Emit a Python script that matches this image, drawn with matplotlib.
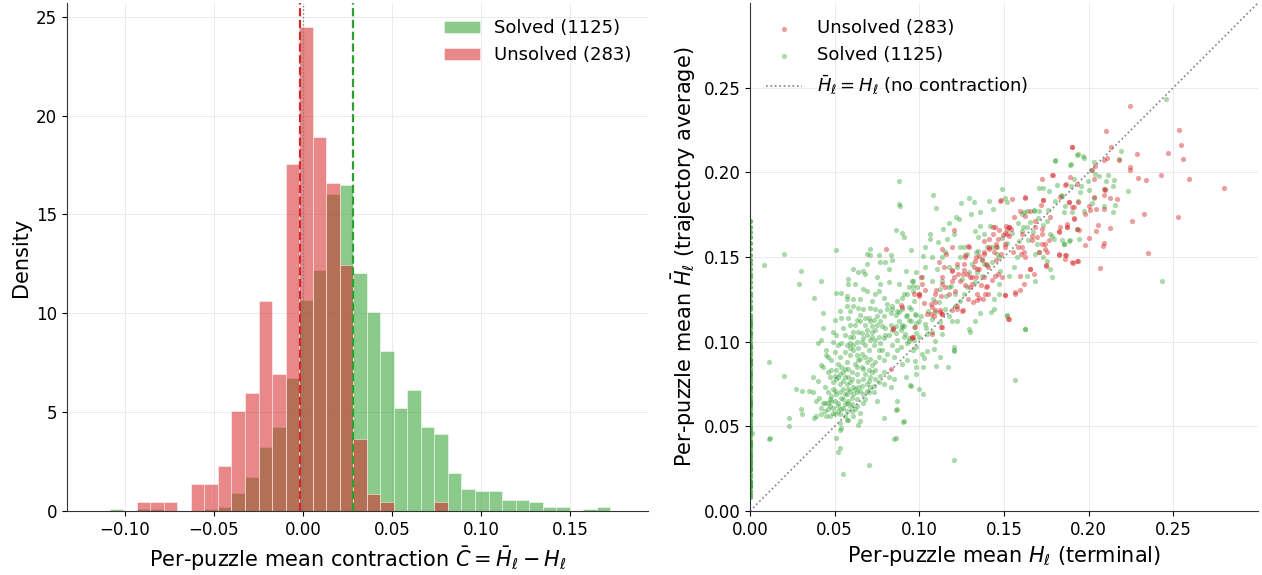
import numpy as np
import matplotlib
matplotlib.use("Agg")
import matplotlib.pyplot as plt

# ---- histogram (left) : densities read per bin ----
bin_lo = -0.1086
bin_w = 0.0076
solved_density = [0.08, 0, 0.08, 0.08, 0, 0, 0, 0.08, 0.19, 0.91, 1.71, 3.23, 4.27, 6.72,
                  10.68, 12.2, 16.05, 16.49, 12.06, 10.08, 8.09, 5.2, 6.11, 4.27, 3.92, 1.94,
                  1.11, 1.0, 1.0, 0.54, 0.54, 0.44, 0.19, 0.19, 0, 0.08, 0.19]
unsolved_density = [0, 0, 0.44, 0.44, 0.44, 0, 1.35, 1.35, 2.26, 5.05, 5.95, 10.61, 6.91, 17.55,
                    24.49, 18.94, 16.6, 12.47, 3.65, 0.88, 0.44, 0, 0, 0, 0.44, 0,
                    0, 0, 0, 0, 0, 0, 0, 0, 0, 0, 0]
solved_mean = 0.0283
unsolved_mean = -0.0017
n_solved = 1125
n_unsolved = 283

# ---- scatter (right) : (terminal H, trajectory-average H) ----
unsolved_pts = [
    # dense middle band
    (0.190, 0.2148), (0.1783, 0.1986), (0.1724, 0.1959), (0.1728, 0.1837), (0.1626, 0.1852),
    (0.1547, 0.1841), (0.1478, 0.1833), (0.1557, 0.1738), (0.1528, 0.1675), (0.1504, 0.164),
    (0.1449, 0.1675), (0.1435, 0.1636), (0.1463, 0.1606), (0.1453, 0.1577), (0.141, 0.1557),
    (0.138, 0.1596), (0.141, 0.1606), (0.138, 0.1528), (0.135, 0.1508), (0.133, 0.1478),
    (0.132, 0.1439), (0.129, 0.1567), (0.1272, 0.1498), (0.1262, 0.1459), (0.1262, 0.1423),
    (0.1281, 0.14), (0.1238, 0.136), (0.1228, 0.14), (0.1193, 0.1419), (0.1193, 0.136),
    (0.1209, 0.1301), (0.1173, 0.1281), (0.1154, 0.1321), (0.1134, 0.138), (0.1128, 0.1272),
    (0.1094, 0.1281), (0.1094, 0.1232), (0.1075, 0.1203), (0.1124, 0.1173), (0.1071, 0.1163),
    (0.1026, 0.1226), (0.0996, 0.1272), (0.1016, 0.134), (0.101, 0.138), (0.1114, 0.1469),
    (0.1193, 0.1557), (0.1295, 0.1561), (0.135, 0.1429), (0.1394, 0.1459), (0.1439, 0.1528),
    (0.1508, 0.1577), (0.1514, 0.1685), (0.1528, 0.1626), (0.1553, 0.1528), (0.1581, 0.1557),
    (0.1616, 0.1528), (0.1626, 0.1502), (0.1652, 0.1429), (0.1675, 0.14), (0.1596, 0.139),
    (0.1567, 0.1291), (0.1508, 0.1278), (0.1449, 0.139), (0.140, 0.1331), (0.139, 0.1281),
    (0.1376, 0.1252), (0.1343, 0.1246), (0.1301, 0.1321), (0.1311, 0.138), (0.135, 0.1256),
    (0.1252, 0.1183), (0.1222, 0.1213), (0.1134, 0.1163), (0.113, 0.1085), (0.0957, 0.1026),
    (0.1524, 0.1134), (0.1748, 0.1449), (0.1754, 0.1528), (0.1744, 0.1577), (0.1724, 0.1665),
    (0.1823, 0.1656), (0.1823, 0.151), (0.1862, 0.151), (0.1902, 0.1469), (0.1931, 0.1478),
    (0.1872, 0.1675), (0.1911, 0.1724), (0.1902, 0.1793), (0.1882, 0.1823), (0.1862, 0.1925),
    (0.1833, 0.1856), (0.1774, 0.1734), (0.1695, 0.1616), (0.1665, 0.1626), (0.1626, 0.1744),
    (0.1656, 0.1774), (0.1685, 0.1715), (0.1596, 0.1774), (0.1518, 0.1665),
    # second pass over the dense band
    (0.1368, 0.148), (0.1338, 0.1431), (0.1428, 0.1362), (0.1394, 0.1323), (0.1406, 0.1283),
    (0.1338, 0.1283), (0.1315, 0.1234), (0.1288, 0.1254), (0.127, 0.1333), (0.1259, 0.1402),
    (0.1203, 0.1382), (0.1191, 0.1421), (0.1225, 0.1461), (0.127, 0.151), (0.1203, 0.1657),
    (0.1135, 0.1549), (0.1157, 0.152), (0.1146, 0.1441), (0.1135, 0.1343), (0.1101, 0.1303),
    (0.1067, 0.1224), (0.109, 0.1185), (0.1124, 0.1185), (0.1135, 0.1165), (0.1045, 0.1165),
    (0.1085, 0.115), (0.1072, 0.1047), (0.1135, 0.1087), (0.1191, 0.1185), (0.1225, 0.1195),
    (0.1259, 0.1185), (0.100, 0.1283), (0.1033, 0.1303), (0.0966, 0.1283), (0.0891, 0.1215),
    (0.0842, 0.1077), (0.0959, 0.1024), (0.1528, 0.1136), (0.1507, 0.1274), (0.1568, 0.1283),
    (0.1597, 0.1303), (0.1621, 0.1343), (0.1654, 0.1431), (0.1491, 0.1382), (0.1462, 0.1402),
    (0.1367, 0.1333), (0.1383, 0.1382), (0.1333, 0.1382), (0.131, 0.1343), (0.1297, 0.1382),
    (0.1336, 0.15), (0.1383, 0.152), (0.141, 0.1549), (0.145, 0.1559), (0.1496, 0.1628),
    (0.1609, 0.1559), (0.1717, 0.1805), (0.1722, 0.1638), (0.1722, 0.1579), (0.1706, 0.153),
    (0.1683, 0.1677), (0.1541, 0.1667), (0.153, 0.1677), (0.1519, 0.1638), (0.1469, 0.1657),
    (0.1435, 0.1677), (0.1507, 0.1559), (0.148, 0.152), (0.1451, 0.148), (0.1406, 0.1441),
    (0.1609, 0.1638), (0.16, 0.152), (0.1665, 0.16), (0.1767, 0.16), (0.1744, 0.1549),
    (0.1751, 0.1451), (0.1789, 0.1986), (0.1733, 0.1839), (0.1625, 0.185), (0.148, 0.1835),
    # upper right
    (0.2246, 0.2392), (0.2102, 0.2242), (0.2535, 0.225), (0.2543, 0.2163), (0.2557, 0.2079),
    (0.2467, 0.2112), (0.2283, 0.2108), (0.2132, 0.2148), (0.1904, 0.215), (0.211, 0.2087),
    (0.2093, 0.2071), (0.2177, 0.2071), (0.2246, 0.203), (0.2242, 0.2012), (0.2291, 0.1969),
    (0.2341, 0.1957), (0.2427, 0.1982), (0.2593, 0.1961), (0.2797, 0.1907), (0.2528, 0.1738),
    (0.2327, 0.1756), (0.2258, 0.1715), (0.2348, 0.1524), (0.2069, 0.1437), (0.2126, 0.1669),
    (0.2167, 0.1841), (0.2128, 0.185), (0.2089, 0.1904), (0.2089, 0.1864), (0.203, 0.1961),
    (0.202, 0.2012), (0.2035, 0.2035), (0.2093, 0.1785), (0.201, 0.1776), (0.2045, 0.1785),
    (0.200, 0.1803), (0.198, 0.1756), (0.1911, 0.1795), (0.1882, 0.1825), (0.1935, 0.1825),
    (0.1931, 0.1933), (0.1866, 0.1929), (0.1888, 0.1972), (0.1911, 0.1728), (0.1874, 0.1697),
    (0.1872, 0.1677), (0.1833, 0.1677), (0.1823, 0.1648), (0.1931, 0.1663), (0.1941, 0.1657),
    (0.2055, 0.1691), (0.2045, 0.1654), (0.200, 0.1614), (0.1976, 0.1571), (0.2093, 0.1583),
    (0.2085, 0.1563), (0.1823, 0.1516), (0.1866, 0.1514), (0.1862, 0.1488), (0.1906, 0.1467),
    (0.1935, 0.1478), (0.2098, 0.1896), (0.203, 0.1852),
    # left of the band
    (0.0803, 0.155), (0.0833, 0.0837), (0.090, 0.1207), (0.0847, 0.1083), (0.0965, 0.1026),
    (0.0973, 0.1089), (0.100, 0.128),
]

solved_pts = [
    # lower-left cluster
    (0.086, 0.166), (0.090, 0.164), (0.091, 0.162), (0.071, 0.155), (0.069, 0.152), (0.071, 0.151),
    (0.076, 0.151), (0.077, 0.147), (0.080, 0.147), (0.084, 0.148), (0.083, 0.151), (0.095, 0.154),
    (0.051, 0.154), (0.020, 0.152), (0.008, 0.145), (0.030, 0.142), (0.029, 0.134), (0.042, 0.136),
    (0.038, 0.126), (0.043, 0.117), (0.051, 0.129), (0.054, 0.129), (0.057, 0.127), (0.058, 0.137),
    (0.058, 0.134), (0.061, 0.143), (0.064, 0.141), (0.067, 0.142), (0.068, 0.140), (0.069, 0.146),
    (0.075, 0.138), (0.077, 0.134), (0.082, 0.143), (0.082, 0.135), (0.088, 0.134), (0.092, 0.142),
    (0.098, 0.141), (0.096, 0.136), (0.096, 0.133), (0.096, 0.130), (0.093, 0.128), (0.090, 0.126),
    (0.087, 0.124), (0.084, 0.121), (0.081, 0.122), (0.079, 0.126), (0.076, 0.130), (0.074, 0.128),
    (0.072, 0.124), (0.069, 0.130), (0.067, 0.131), (0.065, 0.125), (0.061, 0.125), (0.062, 0.134),
    (0.057, 0.125), (0.057, 0.121), (0.059, 0.118), (0.061, 0.121), (0.064, 0.120), (0.067, 0.119),
    (0.071, 0.120), (0.074, 0.119), (0.077, 0.118), (0.081, 0.119), (0.084, 0.119), (0.087, 0.118),
    (0.090, 0.119), (0.093, 0.116), (0.095, 0.119), (0.098, 0.116), (0.050, 0.113), (0.053, 0.118),
    (0.054, 0.114), (0.058, 0.114), (0.059, 0.110), (0.062, 0.110), (0.065, 0.112), (0.068, 0.114),
    (0.070, 0.114), (0.071, 0.112), (0.073, 0.113), (0.075, 0.115), (0.077, 0.112), (0.078, 0.109),
    (0.080, 0.108), (0.083, 0.110), (0.086, 0.109), (0.089, 0.107), (0.091, 0.109), (0.094, 0.113),
    (0.098, 0.111), (0.043, 0.108), (0.049, 0.106), (0.051, 0.104), (0.055, 0.108), (0.056, 0.104),
    (0.059, 0.103), (0.061, 0.103), (0.061, 0.106), (0.064, 0.106), (0.066, 0.105), (0.069, 0.107),
    (0.072, 0.106), (0.074, 0.107), (0.076, 0.103), (0.080, 0.104), (0.086, 0.105), (0.087, 0.101),
    (0.091, 0.103), (0.094, 0.102), (0.097, 0.101), (0.040, 0.099), (0.042, 0.101), (0.045, 0.095),
    (0.049, 0.100), (0.052, 0.098), (0.054, 0.099), (0.057, 0.098), (0.059, 0.099), (0.061, 0.095),
    (0.063, 0.100), (0.066, 0.100), (0.068, 0.098), (0.070, 0.095), (0.071, 0.101), (0.073, 0.098),
    (0.076, 0.095), (0.078, 0.095), (0.081, 0.093), (0.084, 0.098), (0.087, 0.095), (0.089, 0.097),
    (0.093, 0.099), (0.096, 0.095), (0.098, 0.097), (0.045, 0.092), (0.046, 0.091), (0.050, 0.094),
    (0.053, 0.091), (0.056, 0.094), (0.059, 0.092), (0.063, 0.092), (0.065, 0.090), (0.068, 0.091),
    (0.071, 0.090), (0.074, 0.088), (0.076, 0.091), (0.079, 0.089), (0.085, 0.091), (0.090, 0.087),
    (0.093, 0.089), (0.098, 0.085), (0.011, 0.088), (0.042, 0.086), (0.043, 0.085), (0.048, 0.089),
    (0.052, 0.087), (0.051, 0.083), (0.054, 0.085), (0.055, 0.082), (0.057, 0.088), (0.058, 0.084),
    (0.060, 0.082), (0.063, 0.085), (0.063, 0.081), (0.066, 0.085), (0.068, 0.081), (0.070, 0.083),
    (0.072, 0.086), (0.074, 0.083), (0.077, 0.080), (0.079, 0.082), (0.082, 0.079), (0.085, 0.078),
    (0.092, 0.079), (0.098, 0.081), (0.037, 0.079), (0.040, 0.077), (0.046, 0.082), (0.047, 0.079),
    (0.049, 0.076), (0.052, 0.079), (0.053, 0.075), (0.056, 0.079), (0.057, 0.075), (0.059, 0.076),
    (0.061, 0.073), (0.064, 0.077), (0.067, 0.078), (0.069, 0.075), (0.071, 0.073), (0.073, 0.074),
    (0.076, 0.076), (0.079, 0.075), (0.083, 0.073), (0.095, 0.074), (0.020, 0.080), (0.027, 0.072),
    (0.031, 0.071), (0.035, 0.071), (0.037, 0.070), (0.044, 0.073), (0.046, 0.070), (0.048, 0.068),
    (0.050, 0.071), (0.053, 0.070), (0.055, 0.072), (0.057, 0.069), (0.059, 0.071), (0.063, 0.070),
    (0.065, 0.071), (0.067, 0.069), (0.070, 0.070), (0.073, 0.070), (0.047, 0.066), (0.048, 0.065),
    (0.050, 0.065), (0.052, 0.064), (0.055, 0.066), (0.056, 0.063), (0.058, 0.065), (0.060, 0.063),
    (0.063, 0.066), (0.067, 0.064), (0.068, 0.066), (0.075, 0.065), (0.087, 0.065), (0.087, 0.060),
    (0.039, 0.065), (0.041, 0.067), (0.043, 0.064), (0.046, 0.064), (0.049, 0.061), (0.052, 0.062),
    (0.054, 0.060), (0.057, 0.059), (0.059, 0.062), (0.063, 0.062), (0.065, 0.058), (0.030, 0.060),
    (0.031, 0.057), (0.038, 0.055), (0.039, 0.056), (0.042, 0.057), (0.044, 0.059), (0.045, 0.056),
    (0.047, 0.056), (0.050, 0.057), (0.053, 0.057), (0.056, 0.056), (0.058, 0.054), (0.061, 0.056),
    (0.065, 0.053), (0.064, 0.051), (0.023, 0.055), (0.023, 0.050), (0.054, 0.049), (0.053, 0.048),
    (0.079, 0.055), (0.091, 0.053), (0.051, 0.043), (0.053, 0.037), (0.052, 0.035), (0.012, 0.043),
    (0.086, 0.043), (0.070, 0.027), (0.055, 0.022), (0.001, 0.046), (0.0113, 0.0425),
    # second pass over the densest part of the cluster
    (0.048, 0.083), (0.050, 0.080), (0.051, 0.078), (0.053, 0.081), (0.055, 0.077), (0.056, 0.084),
    (0.058, 0.079), (0.049, 0.072), (0.051, 0.069), (0.054, 0.067), (0.047, 0.062), (0.049, 0.058),
    (0.052, 0.059), (0.055, 0.061), (0.057, 0.064), (0.060, 0.067), (0.062, 0.072), (0.060, 0.078),
    (0.062, 0.087), (0.064, 0.089), (0.066, 0.093), (0.069, 0.088), (0.067, 0.084), (0.071, 0.079),
    (0.072, 0.082), (0.074, 0.078), (0.070, 0.077), (0.069, 0.071), (0.066, 0.074), (0.064, 0.073),
    (0.061, 0.069), (0.058, 0.072), (0.056, 0.069), (0.044, 0.064), (0.046, 0.060), (0.042, 0.061),
    (0.053, 0.052), (0.057, 0.054), (0.060, 0.059), (0.062, 0.060), (0.059, 0.096), (0.061, 0.098),
    (0.064, 0.096), (0.067, 0.102), (0.069, 0.104), (0.072, 0.103), (0.074, 0.101), (0.077, 0.099),
    (0.079, 0.102), (0.082, 0.104), (0.084, 0.107), (0.088, 0.112), (0.086, 0.116), (0.083, 0.117),
    (0.079, 0.115), (0.075, 0.110), (0.072, 0.109), (0.068, 0.110), (0.065, 0.116), (0.063, 0.113),
    # middle band
    (0.108, 0.1868), (0.1098, 0.1789), (0.1246, 0.1819), (0.1291, 0.1846), (0.1325, 0.1823),
    (0.1409, 0.1833), (0.1488, 0.1904), (0.1504, 0.1848), (0.1518, 0.1823), (0.1435, 0.1783),
    (0.1356, 0.1764), (0.1305, 0.1754), (0.1232, 0.1724), (0.1218, 0.1734), (0.1173, 0.1699),
    (0.1138, 0.1665), (0.1061, 0.1636), (0.1065, 0.1606), (0.1108, 0.1587), (0.1163, 0.1606),
    (0.1203, 0.1636), (0.1327, 0.1656), (0.1346, 0.1616), (0.138, 0.1636), (0.1419, 0.1685),
    (0.136, 0.1685), (0.1264, 0.1557), (0.1238, 0.1557), (0.1035, 0.1561), (0.102, 0.1508),
    (0.1075, 0.1502), (0.1154, 0.1528), (0.1242, 0.1498), (0.1282, 0.1518), (0.1346, 0.1537),
    (0.140, 0.1557), (0.1459, 0.1557), (0.1469, 0.1498), (0.1429, 0.1469), (0.138, 0.1459),
    (0.1478, 0.1419), (0.1557, 0.1439), (0.1577, 0.1498), (0.1587, 0.1596), (0.1606, 0.1656),
    (0.1636, 0.1679), (0.1656, 0.1705), (0.1606, 0.1754), (0.1636, 0.1774), (0.1675, 0.1778),
    (0.1705, 0.1774), (0.1709, 0.1906), (0.1764, 0.1892), (0.1803, 0.2069), (0.1892, 0.2045),
    (0.1933, 0.2104), (0.1843, 0.1862), (0.1803, 0.1833), (0.1862, 0.1803), (0.1902, 0.1764),
    (0.1931, 0.1665), (0.1852, 0.1577), (0.1793, 0.1606), (0.1783, 0.1626), (0.1754, 0.1715),
    (0.1774, 0.1636), (0.1695, 0.1577), (0.1681, 0.1518), (0.1705, 0.1528), (0.173, 0.1502),
    (0.1754, 0.1478), (0.1886, 0.1596), (0.1783, 0.138), (0.1681, 0.136), (0.1636, 0.139),
    (0.1774, 0.1429), (0.1528, 0.139), (0.1518, 0.1154), (0.1622, 0.1075), (0.1469, 0.1281),
    (0.1469, 0.134), (0.1439, 0.1252), (0.1421, 0.1173), (0.1439, 0.1193), (0.136, 0.1167),
    (0.1331, 0.1124), (0.1291, 0.1075), (0.1301, 0.1055), (0.1222, 0.1124), (0.1193, 0.1124),
    (0.1173, 0.1154), (0.1154, 0.1193), (0.1094, 0.1173), (0.1075, 0.1134), (0.1035, 0.1104),
    (0.0996, 0.1124), (0.0967, 0.1085), (0.0972, 0.1163), (0.0937, 0.1203), (0.0967, 0.1242),
    (0.0986, 0.1321), (0.1016, 0.138), (0.1035, 0.1439), (0.0957, 0.136), (0.0937, 0.1321),
    (0.0907, 0.1281), (0.0878, 0.1173), (0.0898, 0.1085), (0.0917, 0.1045), (0.0937, 0.1006),
    (0.0996, 0.1026), (0.1045, 0.1045), (0.1075, 0.1055), (0.1094, 0.1006), (0.1085, 0.0957),
    (0.1045, 0.0947), (0.1016, 0.0927), (0.0976, 0.0888), (0.1124, 0.1114), (0.1134, 0.1045),
    (0.1114, 0.1232), (0.1213, 0.1281), (0.1242, 0.1242), (0.1262, 0.1281), (0.1331, 0.135),
    (0.137, 0.139), (0.1291, 0.1409), (0.1222, 0.1439), (0.1173, 0.1439), (0.1134, 0.1498),
    (0.1104, 0.1429), (0.1075, 0.136), (0.1134, 0.136), (0.1173, 0.1321), (0.1335, 0.1528),
    (0.1203, 0.0967), (0.1124, 0.0907), (0.1203, 0.0947), (0.1026, 0.0904), (0.0878, 0.1813),
    (0.0878, 0.1951), (0.0887, 0.1801),
    (0.105, 0.118), (0.108, 0.125), (0.112, 0.131), (0.116, 0.127), (0.119, 0.133), (0.121, 0.121),
    (0.125, 0.137), (0.128, 0.132), (0.131, 0.146), (0.134, 0.141), (0.137, 0.149), (0.140, 0.145),
    (0.143, 0.156), (0.146, 0.152), (0.149, 0.161), (0.152, 0.158), (0.155, 0.164), (0.158, 0.170),
    (0.161, 0.168), (0.164, 0.160), (0.167, 0.165), (0.170, 0.173), (0.173, 0.169), (0.176, 0.178),
    (0.101, 0.115), (0.104, 0.108), (0.098, 0.105), (0.095, 0.112), (0.092, 0.115), (0.090, 0.110),
    # upper right
    (0.2457, 0.2435), (0.2189, 0.2128), (0.1935, 0.2106), (0.1967, 0.2094), (0.1974, 0.2083),
    (0.1896, 0.2047), (0.2031, 0.2061), (0.2179, 0.2079), (0.2012, 0.2012), (0.2039, 0.1992),
    (0.2059, 0.1978), (0.2114, 0.1986), (0.2148, 0.1953), (0.2104, 0.1949), (0.2144, 0.1921),
    (0.1996, 0.1947), (0.1953, 0.1919), (0.1896, 0.1917), (0.1911, 0.1963), (0.2004, 0.1898),
    (0.1949, 0.1882), (0.2098, 0.190), (0.2234, 0.1892), (0.2157, 0.1807), (0.2142, 0.1766),
    (0.2031, 0.185), (0.1935, 0.1831), (0.2018, 0.1819), (0.197, 0.177), (0.2089, 0.1801),
    (0.1856, 0.1764), (0.1835, 0.1864), (0.1843, 0.1598), (0.1854, 0.1579), (0.1888, 0.160),
    (0.1941, 0.1606), (0.2431, 0.1358), (0.180, 0.207), (0.1733, 0.1907), (0.1812, 0.1923),
    (0.162, 0.1766), (0.1677, 0.1772),
    # scattered low points
    (0.1205, 0.030), (0.1568, 0.0776), (0.1622, 0.1077), (0.152, 0.1156), (0.085, 0.0427),
    (0.0862, 0.0594), (0.0903, 0.0526), (0.100, 0.0722), (0.102, 0.0693), (0.0943, 0.0742),
    (0.110, 0.0856), (0.117, 0.085), (0.1205, 0.0949), (0.102, 0.085),
]

# puzzles with terminal H = 0 (strip on the y axis)
solved_zero_y = [0.171, 0.168, 0.165, 0.162, 0.158, 0.155, 0.151, 0.148, 0.146, 0.143, 0.140,
                 0.138, 0.135, 0.132, 0.129, 0.127, 0.124, 0.121, 0.119, 0.116, 0.114, 0.112,
                 0.110, 0.108, 0.106, 0.104, 0.102, 0.100, 0.098, 0.096, 0.094, 0.092, 0.090,
                 0.088, 0.086, 0.084, 0.082, 0.080, 0.078, 0.076, 0.074, 0.072, 0.070, 0.068,
                 0.066, 0.064, 0.062, 0.060, 0.058, 0.056, 0.054, 0.052, 0.050, 0.048, 0.046,
                 0.044, 0.042, 0.040, 0.038, 0.036, 0.034, 0.032, 0.030, 0.028, 0.026, 0.024,
                 0.022, 0.020, 0.018, 0.016, 0.014, 0.012, 0.010, 0.008, 0.105, 0.097, 0.089,
                 0.081, 0.073, 0.065, 0.057, 0.049, 0.041, 0.033, 0.025, 0.017, 0.111, 0.087,
                 0.063, 0.039, 0.029, 0.015]

GREEN = "#2ca02c"
RED = "#d62728"

fig = plt.figure(figsize=(12.62, 5.75), dpi=100)
ax1 = fig.add_axes([0.0531, 0.1113, 0.4604, 0.8835])
ax2 = fig.add_axes([0.5943, 0.1113, 0.4025, 0.8835])

# ---------------- left: histogram ----------------
edges = bin_lo + bin_w * np.arange(len(solved_density) + 1)
centers = 0.5 * (edges[:-1] + edges[1:])
ax1.hist(centers, bins=edges, weights=solved_density, color=GREEN, alpha=0.55,
         edgecolor="white", linewidth=0.6, label=f"Solved ({n_solved})")
ax1.hist(centers, bins=edges, weights=unsolved_density, color=RED, alpha=0.55,
         edgecolor="white", linewidth=0.6, label=f"Unsolved ({n_unsolved})")
ax1.axvline(0, color="gray", linestyle=":", linewidth=1.0)
ax1.axvline(unsolved_mean, color=RED, linestyle="--", linewidth=1.6)
ax1.axvline(solved_mean, color=GREEN, linestyle="--", linewidth=1.6)
ax1.set_xlim(-0.1326, 0.1938)
ax1.set_ylim(0, 25.7)
ax1.set_xticks([-0.10, -0.05, 0.00, 0.05, 0.10, 0.15])
ax1.set_yticks([0, 5, 10, 15, 20, 25])
ax1.set_xlabel(r"Per-puzzle mean contraction $\bar{C} = \bar{H}_\ell - H_\ell$", fontsize=15)
ax1.set_ylabel("Density", fontsize=15)
ax1.legend(loc="upper right", frameon=False, fontsize=13)

# ---------------- right: scatter ----------------
u = np.array(unsolved_pts)
s = np.array(solved_pts)
zy = np.array(solved_zero_y)
ax2.scatter(np.zeros_like(zy), zy, s=14, color=GREEN, alpha=0.7, linewidths=0)
sc_g = ax2.scatter(s[:, 0], s[:, 1], s=14, color=GREEN, alpha=0.4, linewidths=0,
                   label=f"Solved ({n_solved})")
sc_r = ax2.scatter(u[:, 0], u[:, 1], s=14, color=RED, alpha=0.45, linewidths=0,
                   label=f"Unsolved ({n_unsolved})")
diag, = ax2.plot([0, 0.3], [0, 0.3], linestyle=":", color="gray", linewidth=1.2,
                 label=r"$\bar{H}_\ell = H_\ell$ (no contraction)")
ax2.set_xlim(0, 0.3)
ax2.set_ylim(0, 0.3)
ax2.set_xticks([0.00, 0.05, 0.10, 0.15, 0.20, 0.25])
ax2.set_yticks([0.00, 0.05, 0.10, 0.15, 0.20, 0.25])
ax2.set_xlabel(r"Per-puzzle mean $H_\ell$ (terminal)", fontsize=15)
ax2.set_ylabel(r"Per-puzzle mean $\bar{H}_\ell$ (trajectory average)", fontsize=15)
ax2.legend(handles=[sc_r, sc_g, diag], loc="upper left", frameon=False, fontsize=13)

for ax in (ax1, ax2):
    ax.grid(True, color="#dddddd", linewidth=0.7, alpha=0.6)
    ax.set_axisbelow(True)
    ax.spines["top"].set_visible(False)
    ax.spines["right"].set_visible(False)
    ax.spines["left"].set_color("#333333")
    ax.spines["bottom"].set_color("#333333")
    ax.tick_params(labelsize=12)

fig.savefig("out.png", dpi=100)
